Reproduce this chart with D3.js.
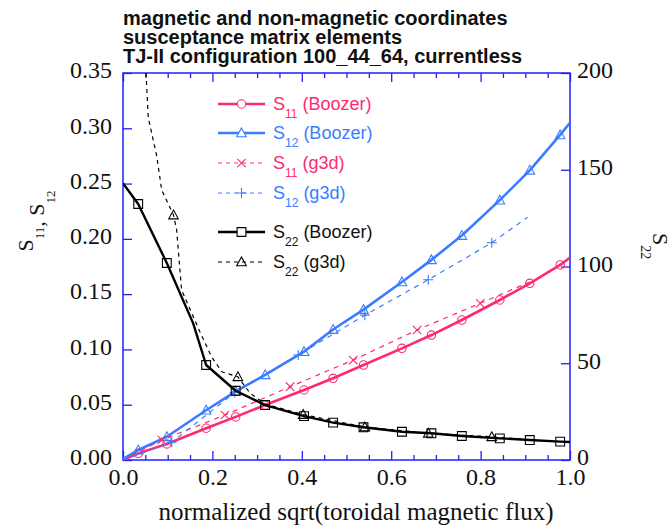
<!DOCTYPE html>
<html>
<head>
<meta charset="utf-8">
<script src="https://cdn.jsdelivr.net/npm/d3@7/dist/d3.min.js"></script>
<style>
  html, body { margin: 0; padding: 0; background: #fff; }
  svg { display: block; }
</style>
</head>
<body>
<svg id="chart" width="672" height="529"></svg>
<script>
// ---------------- data ----------------
const titleLines = [
  "magnetic and non-magnetic coordinates",
  "susceptance matrix elements",
  "TJ-II configuration 100_44_64, currentless"
];

// Boozer (solid lines), sampled at the same radial points
const xBoozer   = [0, 0.034, 0.098, 0.186, 0.252, 0.318, 0.405, 0.470, 0.538, 0.624, 0.690, 0.758, 0.843, 0.910, 0.978, 1.0];
const markBoozer= [0, 1,     1,     1,     1,     1,     1,     1,     1,     1,     1,     1,     1,     1,     1,     0];
const s11Boozer = [0, 0.006, 0.0145, 0.0287, 0.039, 0.0497, 0.0633, 0.0739, 0.0859, 0.101, 0.113, 0.1266, 0.1447, 0.1598, 0.1764, 0.183];
const s12Boozer = [0.001, 0.009, 0.021, 0.045, 0.062, 0.077, 0.098, 0.118, 0.136, 0.161, 0.181, 0.203, 0.235, 0.262, 0.294, 0.305];

const xS22Boozer   = [0, 0.034, 0.098, 0.157, 0.186, 0.252, 0.318, 0.405, 0.470, 0.538, 0.624, 0.690, 0.758, 0.843, 0.910, 0.978, 1.0];
const markS22Boozer= [0, 1,     1,     0,     1,     1,     1,     1,     1,     1,     1,     1,     1,     1,     1,     1,     0];
const s22Boozer    = [143, 132.3, 101.8, 70.6, 49.1, 35.8, 28.4, 22.7, 19.3, 16.9, 14.6, 13.8, 12.4, 11.2, 10.3, 9.5, 9.3];

// g3d (dashed lines)
const xS11g3d   = [0.0, 0.087, 0.228, 0.374, 0.515, 0.658, 0.799, 0.910];
const markS11g3d= [0,   1,     1,     1,     1,     1,     1,     0];
const s11g3d    = [0.0, 0.0181, 0.0407, 0.0663, 0.0904, 0.1176, 0.1417, 0.161];

const xS12g3d   = [0.0, 0.109, 0.250, 0.392, 0.541, 0.683, 0.825, 0.905];
const markS12g3d= [0,   1,     1,     1,     1,     1,     1,     0];
const s12g3d    = [0.0, 0.016, 0.061, 0.095, 0.131, 0.163, 0.1965, 0.2195];

const xS22g3d   = [0.0515, 0.0565, 0.0755, 0.0866, 0.113, 0.120, 0.131, 0.172, 0.198, 0.221, 0.257, 0.284, 0.318, 0.403, 0.541, 0.683, 0.825, 0.920];
const markS22g3d= [0,      0,      0,      0,      1,     0,     0,     0,     0,     0,     1,     0,     0,     1,     1,     1,     1,     0];
const s22g3d    = [200,    177,    157,    139.5,  126.6, 118.9, 87.9,  66.3,  53.4,  45.6,  43,    34.6,  28.9,  23.5,  17.0,  13.8,  12.0,  10.2];

const xTicksMinor = [0.05, 0.1, 0.15, 0.25, 0.3, 0.35, 0.45, 0.5, 0.55, 0.65, 0.7, 0.75, 0.85, 0.9, 0.95];
const xTicksMajor = [0, 0.2, 0.4, 0.6, 0.8, 1.0];
const yLeftTicks  = [0, 0.05, 0.10, 0.15, 0.20, 0.25, 0.30, 0.35];
const yRightTicks = [0, 50, 100, 150, 200];

const legendNames = ["S|11| (Boozer)", "S|12| (Boozer)", "S|11| (g3d)", "S|12| (g3d)", "S|22| (Boozer)", "S|22| (g3d)"];

// ---------------- styles ----------------
const PINK = "#ff2a6e", BLUE = "#3a7cff", BLACK = "#000", FRAME = "#1f1fff";
const SERIF = "'Liberation Serif', 'Times New Roman', serif";
const SANS  = "'Liberation Sans', Arial, Helvetica, sans-serif";

const svg = d3.select("#chart");
const L = 123, R = 570, T = 73, B = 460;
const x  = d3.scaleLinear().domain([0, 1]).range([L, R]);
const yL = d3.scaleLinear().domain([0, 0.35]).range([B, T]);
const yR = d3.scaleLinear().domain([0, 200]).range([B, T]);

// title
svg.append("g").selectAll("text").data(titleLines).join("text")
  .attr("x", L).attr("y", (d, i) => 25 + i * 19)
  .attr("font-family", SANS).attr("font-weight", "bold").attr("font-size", 20)
  .attr("fill", "#111").text(d => d);

// axes
function styleAxis(g) {
  g.select(".domain").remove();
  g.selectAll(".tick line").attr("stroke", FRAME).attr("stroke-width", 1.3);
  g.attr("font-family", SERIF).attr("font-size", 24);
  g.selectAll(".tick text").attr("fill", "#111");
}
const gxMinor = svg.append("g").attr("transform", `translate(0,${B})`)
  .call(d3.axisBottom(x).tickValues(xTicksMinor).tickSize(-5).tickFormat(""));
styleAxis(gxMinor);
const gxMajor = svg.append("g").attr("transform", `translate(0,${B})`)
  .call(d3.axisBottom(x).tickValues(xTicksMajor).tickSize(-9).tickPadding(8).tickFormat(d3.format(".1f")));
styleAxis(gxMajor);
const gtMinor = svg.append("g").attr("transform", `translate(0,${T})`)
  .call(d3.axisTop(x).tickValues(xTicksMinor).tickSize(-5).tickFormat(""));
styleAxis(gtMinor);
const gtMajor = svg.append("g").attr("transform", `translate(0,${T})`)
  .call(d3.axisTop(x).tickValues(xTicksMajor).tickSize(-9).tickFormat(""));
styleAxis(gtMajor);

const gyL = svg.append("g").attr("transform", `translate(${L},0)`)
  .call(d3.axisLeft(yL).tickValues(yLeftTicks).tickSize(-9).tickPadding(11).tickFormat(d3.format(".2f")));
styleAxis(gyL);
gyL.selectAll(".tick text").attr("dy", "0.2em");
const gyR = svg.append("g").attr("transform", `translate(${R},0)`)
  .call(d3.axisRight(yR).tickValues(yRightTicks).tickSize(-9).tickPadding(7).tickFormat(d3.format("d")));
styleAxis(gyR);
gyR.selectAll(".tick text").attr("dy", "0.2em");

// frame
svg.append("rect").attr("x", L).attr("y", T).attr("width", R - L).attr("height", B - T)
  .attr("fill", "none").attr("stroke", FRAME).attr("stroke-width", 1.5);

// axis titles
svg.append("text").attr("x", 356).attr("y", 520)
  .attr("text-anchor", "middle").attr("font-family", SERIF).attr("font-size", 25).attr("fill", "#111")
  .text("normalized sqrt(toroidal magnetic flux)");

function subLabel(sel, parts, size, subSize, subDy) {
  parts.forEach(([main, sub]) => {
    sel.append("tspan").attr("font-size", size).text(main);
    sel.append("tspan").attr("font-size", subSize).attr("dy", subDy).text(sub);
    sel.append("tspan").attr("font-size", size).attr("dy", -subDy).text("");
  });
}
const yLab = svg.append("text").attr("transform", "translate(33,221) rotate(-90)")
  .attr("text-anchor", "middle").attr("font-family", SERIF).attr("fill", "#111");
subLabel(yLab, [["S", "11"], [", S", "12"]], 22, 13, 11);

const yRLab = svg.append("text").attr("transform", "translate(653,233) rotate(90)")
  .attr("text-anchor", "start").attr("font-family", SERIF).attr("fill", "#111");
subLabel(yRLab, [["S", "22"]], 22, 14, 12);

// ---------------- series ----------------
svg.append("clipPath").attr("id", "plotclip")
  .append("rect").attr("x", L).attr("y", T).attr("width", R - L).attr("height", B - T);
const plot = svg.append("g").attr("clip-path", "url(#plotclip)");

function markerPath(type) {
  switch (type) {
    case "circle": return "M4.2,0A4.2,4.2 0 1,1 -4.2,0A4.2,4.2 0 1,1 4.2,0Z";
    case "triangle": return "M0,-5L4.8,3.8L-4.8,3.8Z";
    case "square": return "M-4.4,-4.4H4.4V4.4H-4.4Z";
    case "times": return "M-4.2,-4.2L4.2,4.2M4.2,-4.2L-4.2,4.2";
    case "plus": return "M-5,0H5M0,-5V5";
  }
}

const series = [
  { xs: xBoozer, ys: s11Boozer, mk: markBoozer, y: yL, color: PINK, dash: null, width: 2.6, marker: "circle" },
  { xs: xBoozer, ys: s12Boozer, mk: markBoozer, y: yL, color: BLUE, dash: null, width: 2.6, marker: "triangle" },
  { xs: xS11g3d, ys: s11g3d, mk: markS11g3d, y: yL, color: PINK, dash: "5,5", width: 1.2, marker: "times" },
  { xs: xS12g3d, ys: s12g3d, mk: markS12g3d, y: yL, color: BLUE, dash: "5,5", width: 1.2, marker: "plus" },
  { xs: xS22Boozer, ys: s22Boozer, mk: markS22Boozer, y: yR, color: BLACK, dash: null, width: 2.4, marker: "square" },
  { xs: xS22g3d, ys: s22g3d, mk: markS22g3d, y: yR, color: BLACK, dash: "4,4", width: 1.2, marker: "triangle" }
];

series.forEach(s => {
  const pts = s.xs.map((v, i) => ({ x: v, y: s.ys[i], m: s.mk[i] }));
  const line = d3.line().x(d => x(d.x)).y(d => s.y(d.y));
  plot.append("path").datum(pts).attr("d", line)
    .attr("fill", "none").attr("stroke", s.color).attr("stroke-width", s.width)
    .attr("stroke-dasharray", s.dash).attr("stroke-linejoin", "round");
  plot.append("g").selectAll("path").data(pts.filter(d => d.m)).join("path")
    .attr("transform", d => `translate(${x(d.x)},${s.y(d.y)})`)
    .attr("d", markerPath(s.marker))
    .attr("fill", "none").attr("stroke", s.color).attr("stroke-width", 1.1);
});

// ---------------- legend ----------------
const legendY = [104, 133, 163, 193, 232, 262];
const lg = svg.append("g");
legendNames.forEach((name, i) => {
  const s = series[i];
  const yy = legendY[i];
  lg.append("line").attr("x1", 218).attr("x2", 265).attr("y1", yy).attr("y2", yy)
    .attr("stroke", s.color).attr("stroke-width", s.dash ? 1.2 : s.width)
    .attr("stroke-dasharray", s.dash ? "4,4" : null);
  lg.append("path").attr("transform", `translate(241.5,${yy})`).attr("d", markerPath(s.marker))
    .attr("fill", s.dash ? "none" : "#fff").attr("stroke", s.color).attr("stroke-width", 1.1);
  const [a, b, c] = name.split("|");
  const t = lg.append("text").attr("x", 273).attr("y", yy + 6)
    .attr("font-family", SANS).attr("font-size", 18).attr("fill", s.color === BLACK ? "#111" : s.color);
  t.append("tspan").text(a);
  t.append("tspan").attr("font-size", 12).attr("dy", 8).text(b);
  t.append("tspan").attr("dy", -8).text(c);
});
</script>
</body>
</html>
